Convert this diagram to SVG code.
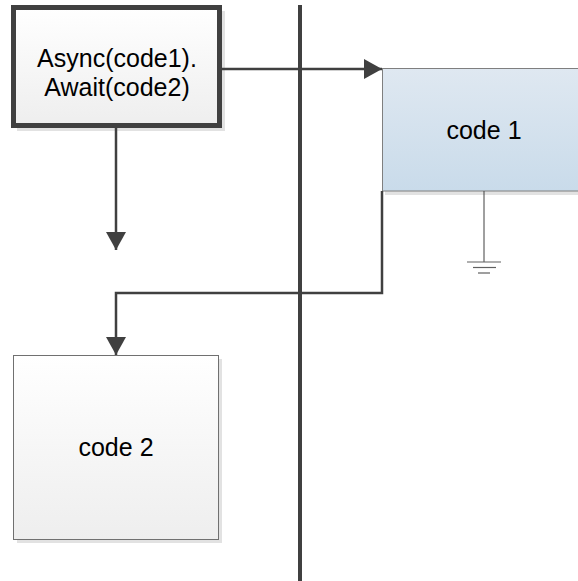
<svg xmlns="http://www.w3.org/2000/svg" width="578" height="581" viewBox="0 0 578 581">
<style>
.lbl{font-family:"Liberation Sans",Arial,sans-serif;font-size:25px;fill:#000;text-anchor:middle}
.conn{fill:none;stroke:#404040;stroke-width:2.5}
.shadow{fill:#e2e2e2}
</style>
<defs>
<linearGradient id="gGray" x1="0" y1="0" x2="0" y2="1"><stop offset="0" stop-color="#ffffff"/><stop offset="1" stop-color="#eeeeee"/></linearGradient>
<linearGradient id="gBlue" x1="0" y1="0" x2="0" y2="1"><stop offset="0" stop-color="#dfe8f1"/><stop offset="1" stop-color="#c9dbea"/></linearGradient>
<marker id="arr" markerUnits="userSpaceOnUse" viewBox="0 0 18 20" refX="18" refY="10" markerWidth="18" markerHeight="20" orient="auto"><path d="M0,0 L18,10 L0,20 Z" fill="#404040"/></marker>
</defs>
<g id="async">
<rect class="shadow" x="17" y="11" width="208" height="120"/>
<rect x="13.5" y="7.5" width="206" height="118" fill="url(#gGray)" stroke="#404040" stroke-width="5"/>
<text class="lbl" x="117" y="67">Async(code1).</text>
<text class="lbl" x="117" y="96">Await(code2)</text>
</g>
<g id="code1">
<rect class="shadow" x="385" y="72" width="200" height="123"/>
<rect x="382.5" y="68.5" width="200" height="122.5" fill="url(#gBlue)" stroke="#7f7f7f" stroke-width="1"/>
<text class="lbl" x="484" y="139">code 1</text>
</g>
<g id="code2">
<rect class="shadow" x="17" y="359" width="205" height="184"/>
<rect x="13.5" y="355.5" width="205" height="184" fill="url(#gGray)" stroke="#707070" stroke-width="1"/>
<text class="lbl" x="116" y="456">code 2</text>
</g>
<line x1="300" y1="5" x2="300" y2="581" stroke="#404040" stroke-width="4"/>
<g id="connectors">
<path class="conn" d="M222,69 H382" marker-end="url(#arr)"/>
<path class="conn" d="M116,128 V250" marker-end="url(#arr)"/>
<path class="conn" d="M382,191 V293 H116 V355" marker-end="url(#arr)"/>
<path d="M484,191 V262" stroke="#404040" stroke-width="1" fill="none"/>
<g stroke="#606060" stroke-width="1.2"><line x1="467" y1="262" x2="501" y2="262"/><line x1="473" y1="267.5" x2="496" y2="267.5"/><line x1="478" y1="273" x2="490" y2="273"/></g>
</g>
</svg>
